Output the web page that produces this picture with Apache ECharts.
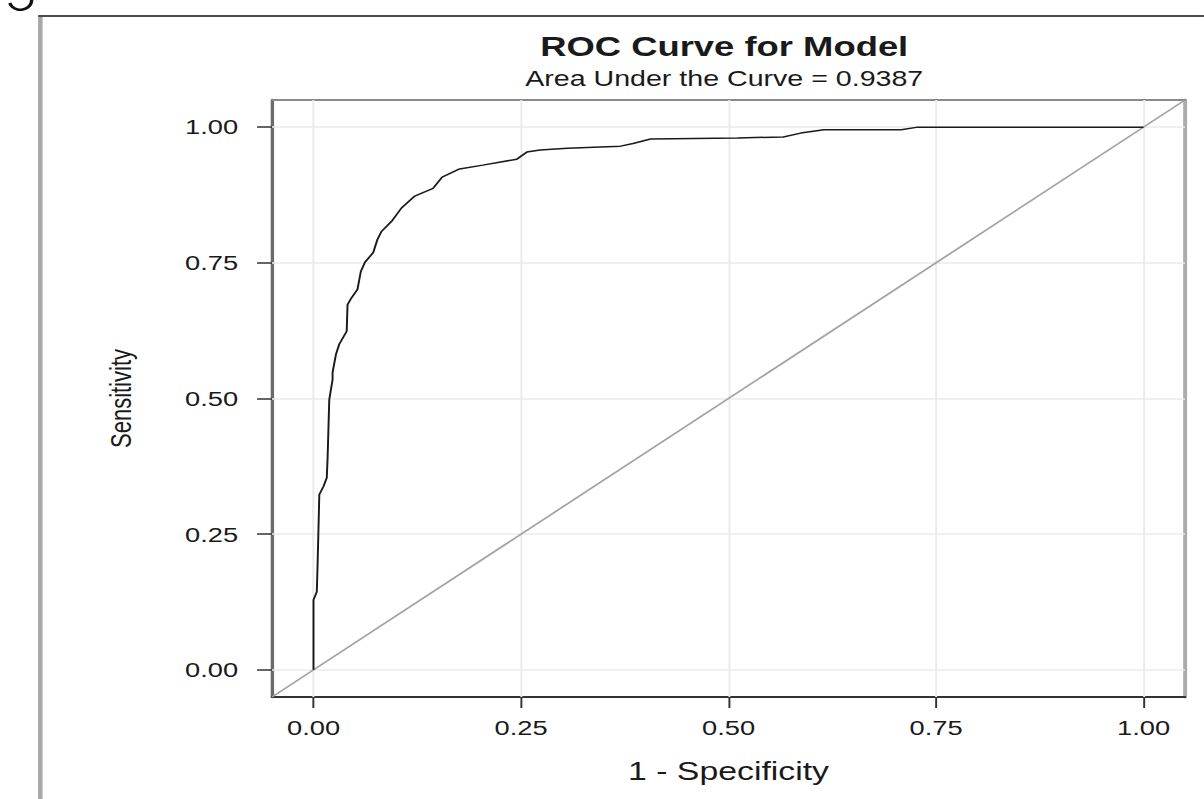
<!DOCTYPE html>
<html>
<head>
<meta charset="utf-8">
<title>ROC Curve</title>
<script src="https://cdn.jsdelivr.net/npm/echarts@6/dist/echarts.min.js"></script>
<style>
html,body{margin:0;padding:0;background:#fff;overflow:hidden;}
/* the reference picture is stretched sideways, so draw narrow and stretch */
#main{width:926px;height:799px;transform:scaleX(1.3002);transform-origin:0 0;}
</style>
</head>
<body>
<div id="main"></div>
<script>
// ROC curve points
var fpr = [0, 0, 0.004, 0.005, 0.007, 0.012, 0.016, 0.017, 0.019, 0.023, 0.023, 0.027, 0.031, 0.040, 0.041,
	0.046, 0.053, 0.057, 0.062, 0.072, 0.077, 0.082, 0.095, 0.106, 0.122, 0.144, 0.155, 0.176, 0.204,
	0.245, 0.257, 0.273, 0.306, 0.370, 0.385, 0.406, 0.511, 0.566, 0.587, 0.615, 0.708, 0.728, 1.0];
var tpr = [0, 0.129, 0.144, 0.199, 0.323, 0.338, 0.354, 0.391, 0.498, 0.535, 0.548, 0.581, 0.600, 0.624, 0.673,
	0.686, 0.701, 0.734, 0.751, 0.769, 0.793, 0.808, 0.828, 0.851, 0.873, 0.887, 0.908, 0.923, 0.930,
	0.941, 0.954, 0.958, 0.961, 0.965, 0.970, 0.978, 0.980, 0.982, 0.989, 0.995, 0.995, 1.0, 1.0];
// chance line (abline) and axis set-up
var refLine = [[-0.05, -0.05], [1.05, 1.05]];
var tickValues = [0, 0.25, 0.5, 0.75, 1];
var axisRange = [-0.05, 1.05];

var fontName = 'Liberation Sans';
var txtColor = '#1a1a1a';

function fmt(v){
	return Number(v).toFixed(2);
}

var curveData = [];
for(var i=0;i<fpr.length;i++){
	curveData.push([fpr[i], tpr[i]]);
}

var gridLines = [];
for(var j=0;j<tickValues.length;j++){
	gridLines.push({xAxis: tickValues[j]});
	gridLines.push({yAxis: tickValues[j]});
}

var chart = echarts.init(document.getElementById('main'), null, {renderer: 'svg'});

var option = {
	animation: false,
	backgroundColor: '#fff',
	textStyle: {fontFamily: fontName},
	grid: {left: 209.2, right: 14.6, top: 100, bottom: 102, containLabel: false},
	graphic: {
		elements: [
			//外框
			{type: 'line', silent: true, shape: {x1: 31, y1: 15, x2: 31, y2: 799}, style: {stroke: '#a9a9a9', lineWidth: 3.5}},
			{type: 'line', silent: true, shape: {x1: 29.5, y1: 16, x2: 926, y2: 16}, style: {stroke: '#4d4d4d', lineWidth: 2}},
			//左上角被裁掉的字
			{type: 'polyline', silent: true,
				shape: {points: [[7.5, 3], [9.5, 6.8], [13.5, 9.4], [17.5, 9.4], [21.5, 7.2], [23.8, 3.5], [24.4, -2]], smooth: 0.4},
				style: {stroke: '#111', lineWidth: 2.6, fill: null}},
			//标题
			{type: 'text', silent: true, x: 557, y: 47,
				style: {text: 'ROC Curve for Model', fontFamily: fontName, fontSize: 28, fontWeight: 'bold',
					fill: txtColor, align: 'center', verticalAlign: 'middle'}},
			{type: 'text', silent: true, x: 557, y: 78,
				style: {text: 'Area Under the Curve = 0.9387', fontFamily: fontName, fontSize: 22,
					fill: txtColor, align: 'center', verticalAlign: 'middle'}}
		]
	},
	xAxis: [
		{
			type: 'value', position: 'bottom', min: axisRange[0], max: axisRange[1],
			name: '1 - Specificity', nameLocation: 'middle', nameGap: 61,
			nameTextStyle: {fontSize: 26, color: txtColor, fontFamily: fontName},
			axisLine: {show: true, onZero: false, lineStyle: {color: '#333', width: 2}},
			axisTick: {show: true, customValues: tickValues, length: 11, lineStyle: {color: '#333', width: 1.5}},
			axisLabel: {customValues: tickValues, formatter: fmt, fontSize: 21, color: txtColor, margin: 20},
			splitLine: {show: false}
		},
		{
			type: 'value', position: 'top', min: axisRange[0], max: axisRange[1],
			axisLine: {show: true, onZero: false, lineStyle: {color: '#8a8a8a', width: 2}},
			axisTick: {show: false}, axisLabel: {show: false}, splitLine: {show: false}
		}
	],
	yAxis: [
		{
			type: 'value', position: 'left', min: axisRange[0], max: axisRange[1],
			name: 'Sensitivity', nameLocation: 'middle', nameGap: 105, nameRotate: 90,
			nameTextStyle: {fontSize: 22, color: txtColor, fontFamily: fontName},
			axisLine: {show: true, onZero: false, lineStyle: {color: '#6b6b6b', width: 2.6}},
			axisTick: {show: true, customValues: tickValues, length: 11.5, lineStyle: {color: '#333', width: 1.5}},
			axisLabel: {customValues: tickValues, formatter: fmt, fontSize: 21, color: txtColor, margin: 26},
			splitLine: {show: false}
		},
		{
			type: 'value', position: 'right', min: axisRange[0], max: axisRange[1],
			axisLine: {show: true, onZero: false, lineStyle: {color: '#ababab', width: 3}},
			axisTick: {show: false}, axisLabel: {show: false}, splitLine: {show: false}
		}
	],
	series: [
		{
			//网格线
			type: 'line', data: [], silent: true,
			markLine: {
				silent: true, symbol: ['none', 'none'], label: {show: false},
				lineStyle: {color: '#ebebeb', width: 1.5, type: 'solid'},
				emphasis: {disabled: true},
				data: gridLines
			}
		},
		{
			type: 'line', data: refLine, z: 9, silent: true, showSymbol: false, symbol: 'none',
			lineStyle: {color: '#a3a3a3', width: 1.6}
		},
		{
			type: 'line', data: curveData, z: 10, silent: true, showSymbol: false, symbol: 'none',
			lineStyle: {color: '#1a1a1a', width: 1.5}
		}
	]
};
chart.setOption(option);
</script>
</body>
</html>
